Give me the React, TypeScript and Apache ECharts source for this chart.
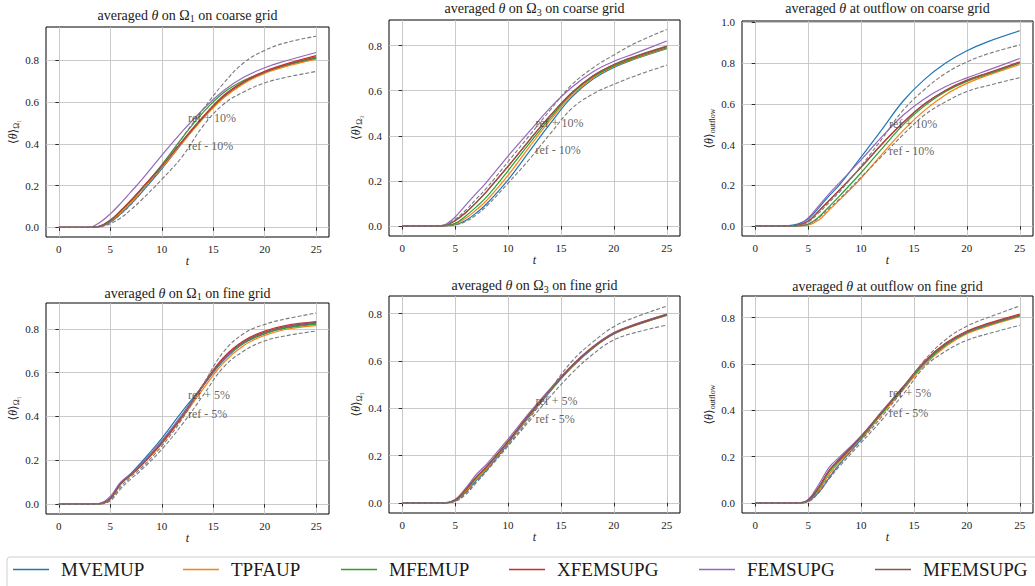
import React, { useEffect, useRef } from "react";
import * as echarts from "echarts";

const FONT = "'Liberation Serif', 'DejaVu Serif', serif";

// time samples
const T = [0, 3, 4, 5, 6, 7, 8, 10, 12, 14, 16, 18, 20, 22, 25];
const X_TICKS = [0, 5, 10, 15, 20, 25];
const Y_TICKS = [0, 0.2, 0.4, 0.6, 0.8];
const Y_TICKS_OUT = [0, 0.2, 0.4, 0.6, 0.8, 1.0];

const NAMES = ["MVEMUP", "TPFAUP", "MFEMUP", "XFEMSUPG", "FEMSUPG", "MFEMSUPG"];
const COLORS = ["#1f77b4", "#ff7f0e", "#2ca02c", "#d62728", "#9467bd", "#8c564b"];

// coarse grid, Omega_1
const c1MVEMUP = [0, 0, 0.004, 0.025, 0.065, 0.112, 0.165, 0.28, 0.405, 0.525, 0.625, 0.695, 0.742, 0.775, 0.81];
const c1TPFAUP = [0, 0, 0.005, 0.03, 0.072, 0.12, 0.175, 0.285, 0.405, 0.52, 0.62, 0.69, 0.738, 0.77, 0.806];
const c1MFEMUP = [0, 0, 0.005, 0.032, 0.078, 0.128, 0.182, 0.3, 0.43, 0.55, 0.645, 0.705, 0.745, 0.777, 0.812];
const c1XFEMSUPG = [0, 0, 0.006, 0.035, 0.08, 0.13, 0.185, 0.295, 0.415, 0.53, 0.632, 0.7, 0.748, 0.782, 0.823];
const c1FEMSUPG = [0, 0.002, 0.025, 0.065, 0.115, 0.17, 0.225, 0.345, 0.46, 0.565, 0.655, 0.72, 0.765, 0.797, 0.838];
const c1MFEMSUPG = [0, 0, 0.006, 0.034, 0.079, 0.128, 0.183, 0.292, 0.412, 0.527, 0.628, 0.697, 0.744, 0.778, 0.817];
const c1Upper = [0, 0, 0.004, 0.025, 0.062, 0.11, 0.165, 0.29, 0.43, 0.565, 0.69, 0.79, 0.848, 0.884, 0.916];
const c1Lower = [0, 0, 0.003, 0.018, 0.045, 0.085, 0.13, 0.23, 0.34, 0.485, 0.59, 0.65, 0.692, 0.718, 0.747];

// coarse grid, Omega_3
const c3MVEMUP = [0, 0, 0.001, 0.006, 0.025, 0.058, 0.1, 0.205, 0.33, 0.455, 0.57, 0.65, 0.703, 0.74, 0.786];
const c3TPFAUP = [0, 0, 0.001, 0.009, 0.035, 0.072, 0.115, 0.225, 0.35, 0.47, 0.577, 0.655, 0.707, 0.742, 0.788];
const c3MFEMUP = [0, 0, 0.002, 0.012, 0.045, 0.085, 0.13, 0.245, 0.365, 0.48, 0.585, 0.66, 0.71, 0.745, 0.79];
const c3XFEMSUPG = [0, 0, 0.003, 0.025, 0.06, 0.105, 0.155, 0.265, 0.38, 0.49, 0.59, 0.665, 0.715, 0.75, 0.795];
const c3FEMSUPG = [0, 0, 0.006, 0.04, 0.093, 0.145, 0.196, 0.31, 0.418, 0.525, 0.614, 0.683, 0.73, 0.765, 0.82];
const c3MFEMSUPG = [0, 0, 0.003, 0.024, 0.059, 0.104, 0.154, 0.264, 0.379, 0.49, 0.59, 0.665, 0.716, 0.752, 0.797];
const c3Upper = [0, 0, 0.004, 0.03, 0.07, 0.12, 0.17, 0.285, 0.4, 0.515, 0.625, 0.7, 0.758, 0.81, 0.871];
const c3Lower = [0, 0, 0.001, 0.005, 0.02, 0.05, 0.09, 0.19, 0.295, 0.41, 0.52, 0.585, 0.628, 0.665, 0.713];

// coarse grid, outflow
const coMVEMUP = [0, 0.002, 0.01, 0.035, 0.09, 0.15, 0.205, 0.339, 0.476, 0.615, 0.72, 0.8, 0.86, 0.905, 0.958];
const coTPFAUP = [0, 0, 0.001, 0.005, 0.03, 0.08, 0.13, 0.235, 0.355, 0.47, 0.568, 0.645, 0.7, 0.74, 0.793];
const coMFEMUP = [0, 0, 0.002, 0.01, 0.045, 0.097, 0.15, 0.262, 0.382, 0.498, 0.59, 0.66, 0.71, 0.745, 0.8];
const coXFEMSUPG = [0, 0, 0.004, 0.025, 0.075, 0.128, 0.18, 0.29, 0.405, 0.51, 0.6, 0.667, 0.716, 0.752, 0.806];
const coFEMSUPG = [0, 0, 0.006, 0.04, 0.1, 0.16, 0.215, 0.325, 0.44, 0.545, 0.625, 0.685, 0.727, 0.765, 0.822];
const coMFEMSUPG = [0, 0, 0.004, 0.024, 0.073, 0.126, 0.178, 0.288, 0.403, 0.508, 0.598, 0.665, 0.714, 0.75, 0.803];
const coUpper = [0, 0, 0.003, 0.02, 0.065, 0.118, 0.17, 0.295, 0.43, 0.57, 0.67, 0.75, 0.805, 0.845, 0.889];
const coLower = [0, 0, 0.001, 0.01, 0.04, 0.088, 0.135, 0.24, 0.345, 0.45, 0.545, 0.61, 0.66, 0.69, 0.728];

// fine grid, Omega_1
const f1MVEMUP = [0, 0, 0.002, 0.025, 0.095, 0.14, 0.19, 0.3, 0.425, 0.54, 0.655, 0.735, 0.778, 0.805, 0.825];
const f1TPFAUP = [0, 0, 0.001, 0.022, 0.09, 0.132, 0.175, 0.275, 0.395, 0.525, 0.645, 0.725, 0.77, 0.797, 0.815];
const f1MFEMUP = [0, 0, 0.002, 0.025, 0.093, 0.135, 0.18, 0.285, 0.41, 0.54, 0.66, 0.735, 0.778, 0.803, 0.822];
const f1XFEMSUPG = [0, 0, 0.002, 0.027, 0.095, 0.135, 0.178, 0.28, 0.405, 0.545, 0.67, 0.747, 0.79, 0.815, 0.833];
const f1FEMSUPG = [0, 0, 0.004, 0.035, 0.1, 0.138, 0.182, 0.29, 0.41, 0.54, 0.662, 0.74, 0.782, 0.81, 0.828];
const f1MFEMSUPG = [0, 0, 0.002, 0.026, 0.094, 0.134, 0.177, 0.278, 0.4, 0.54, 0.665, 0.742, 0.785, 0.81, 0.83];
const f1Upper = [0, 0, 0.001, 0.02, 0.08, 0.125, 0.165, 0.265, 0.39, 0.545, 0.695, 0.78, 0.82, 0.845, 0.872];
const f1Lower = [0, 0, 0.001, 0.015, 0.07, 0.115, 0.155, 0.25, 0.365, 0.495, 0.625, 0.7, 0.745, 0.768, 0.79];

// fine grid, Omega_3
const f3MVEMUP = [0, 0, 0, 0.008, 0.045, 0.095, 0.14, 0.25, 0.365, 0.472, 0.572, 0.653, 0.714, 0.75, 0.793];
const f3TPFAUP = [0, 0, 0, 0.01, 0.05, 0.102, 0.148, 0.255, 0.368, 0.475, 0.574, 0.655, 0.715, 0.751, 0.794];
const f3MFEMUP = [0, 0, 0, 0.011, 0.054, 0.107, 0.152, 0.258, 0.371, 0.477, 0.576, 0.657, 0.717, 0.752, 0.795];
const f3XFEMSUPG = [0, 0, 0, 0.012, 0.056, 0.11, 0.155, 0.26, 0.373, 0.479, 0.578, 0.658, 0.718, 0.753, 0.796];
const f3FEMSUPG = [0, 0, 0, 0.014, 0.062, 0.12, 0.165, 0.27, 0.38, 0.484, 0.58, 0.66, 0.72, 0.756, 0.799];
const f3MFEMSUPG = [0, 0, 0, 0.012, 0.056, 0.11, 0.155, 0.26, 0.373, 0.479, 0.578, 0.658, 0.718, 0.754, 0.797];
const f3Upper = [0, 0, 0, 0.008, 0.04, 0.09, 0.14, 0.245, 0.355, 0.48, 0.597, 0.68, 0.745, 0.785, 0.832];
const f3Lower = [0, 0, 0, 0.006, 0.035, 0.085, 0.135, 0.24, 0.345, 0.45, 0.547, 0.628, 0.689, 0.72, 0.752];

// fine grid, outflow
const foMVEMUP = [0, 0, 0, 0.008, 0.045, 0.11, 0.17, 0.275, 0.388, 0.497, 0.603, 0.682, 0.735, 0.767, 0.807];
const foTPFAUP = [0, 0, 0, 0.01, 0.055, 0.125, 0.18, 0.28, 0.385, 0.49, 0.595, 0.675, 0.73, 0.763, 0.804];
const foMFEMUP = [0, 0, 0, 0.011, 0.062, 0.135, 0.185, 0.283, 0.39, 0.497, 0.603, 0.682, 0.735, 0.767, 0.807];
const foXFEMSUPG = [0, 0, 0, 0.012, 0.068, 0.142, 0.192, 0.287, 0.395, 0.503, 0.612, 0.69, 0.742, 0.775, 0.815];
const foFEMSUPG = [0, 0, 0, 0.015, 0.08, 0.155, 0.2, 0.29, 0.397, 0.503, 0.608, 0.686, 0.738, 0.77, 0.81];
const foMFEMSUPG = [0, 0, 0, 0.012, 0.068, 0.141, 0.19, 0.286, 0.394, 0.501, 0.609, 0.687, 0.739, 0.772, 0.812];
const foUpper = [0, 0, 0, 0.008, 0.05, 0.115, 0.17, 0.27, 0.375, 0.49, 0.616, 0.705, 0.763, 0.8, 0.85];
const foLower = [0, 0, 0, 0.006, 0.045, 0.105, 0.16, 0.26, 0.36, 0.47, 0.587, 0.655, 0.702, 0.73, 0.767];

// annotations
const ANNO_T = [12.5, 12.55, 12.6, 12.5, 12.55, 12.6];
const ANNO_PLUS = [0.524, 0.455, 0.5, 0.499, 0.43, 0.475];
const ANNO_MINUS = [0.39, 0.337, 0.371, 0.412, 0.354, 0.388];
const ANNO_PCT = ["10%", "10%", "10%", "5%", "5%", "5%"];

const TITLES = [
  "averaged {i|θ} on Ω{s|1} on coarse grid",
  "averaged {i|θ} on Ω{s|3} on coarse grid",
  "averaged {i|θ} at outflow on coarse grid",
  "averaged {i|θ} on Ω{s|1} on fine grid",
  "averaged {i|θ} on Ω{s|3} on fine grid",
  "averaged {i|θ} at outflow on fine grid",
];
const YNAMES = [
  "⟨{i|θ}⟩{s|Ω₁}",
  "⟨{i|θ}⟩{s|Ω₃}",
  "⟨{i|θ}⟩{s|outflow}",
  "⟨{i|θ}⟩{s|Ω₁}",
  "⟨{i|θ}⟩{s|Ω₃}",
  "⟨{i|θ}⟩{s|outflow}",
];

const PANEL_SERIES = [
  [c1MVEMUP, c1TPFAUP, c1MFEMUP, c1XFEMSUPG, c1FEMSUPG, c1MFEMSUPG],
  [c3MVEMUP, c3TPFAUP, c3MFEMUP, c3XFEMSUPG, c3FEMSUPG, c3MFEMSUPG],
  [coMVEMUP, coTPFAUP, coMFEMUP, coXFEMSUPG, coFEMSUPG, coMFEMSUPG],
  [f1MVEMUP, f1TPFAUP, f1MFEMUP, f1XFEMSUPG, f1FEMSUPG, f1MFEMSUPG],
  [f3MVEMUP, f3TPFAUP, f3MFEMUP, f3XFEMSUPG, f3FEMSUPG, f3MFEMSUPG],
  [foMVEMUP, foTPFAUP, foMFEMUP, foXFEMSUPG, foFEMSUPG, foMFEMSUPG],
];
const PANEL_UPPER = [c1Upper, c3Upper, coUpper, f1Upper, f3Upper, foUpper];
const PANEL_LOWER = [c1Lower, c3Lower, coLower, f1Lower, f3Lower, foLower];
const PANEL_YTICKS = [Y_TICKS, Y_TICKS, Y_TICKS_OUT, Y_TICKS, Y_TICKS, Y_TICKS];
const PANEL_YRANGE = [
  [-0.046, 0.96],
  [-0.044, 0.913],
  [-0.048, 1.006],
  [-0.045, 0.918],
  [-0.043, 0.875],
  [-0.043, 0.893],
];

// layout (pixels)
const BOXES = [
  [46, 27, 283, 210],
  [389, 20, 291, 216],
  [742, 21, 291, 215],
  [46, 303, 283, 211],
  [389, 296, 291, 217],
  [742, 296, 291, 217],
];
const TITLE_Y = [15, 8.5, 8.5, 293, 285.5, 286.5];
const LEGEND_LEFT = [13, 183, 341, 509, 699, 875];

const TEXT = "#1a1a1a";

function buildOption() {
  const grid = BOXES.map((b) => ({
    left: b[0],
    top: b[1],
    width: b[2],
    height: b[3],
    show: true,
    borderColor: "#000",
    borderWidth: 1,
    backgroundColor: "transparent",
  }));

  const xAxis = BOXES.map((_, i) => ({
    type: "value",
    gridIndex: i,
    min: -1.25,
    max: 26.25,
    axisLine: { show: false },
    axisTick: {
      show: true,
      customValues: X_TICKS,
      length: 3.5,
      lineStyle: { color: "#000", width: 0.8 },
    },
    axisLabel: {
      customValues: X_TICKS,
      margin: 6,
      color: TEXT,
      fontFamily: FONT,
      fontSize: 11,
      formatter: (v: number) => String(v),
    },
    splitLine: { show: true, lineStyle: { color: "#c4c4c4", width: 0.9 } },
    name: "t",
    nameLocation: "middle",
    nameGap: 15,
    nameTextStyle: { fontStyle: "italic", fontFamily: FONT, fontSize: 12, color: TEXT },
  }));

  const yAxis = BOXES.map((_, i) => ({
    type: "value",
    gridIndex: i,
    min: PANEL_YRANGE[i][0],
    max: PANEL_YRANGE[i][1],
    axisLine: { show: false },
    axisTick: {
      show: true,
      customValues: PANEL_YTICKS[i],
      length: 3.5,
      lineStyle: { color: "#000", width: 0.8 },
    },
    axisLabel: {
      customValues: PANEL_YTICKS[i],
      margin: 7,
      color: TEXT,
      fontFamily: FONT,
      fontSize: 11,
      formatter: (v: number) => v.toFixed(1),
    },
    splitLine: { show: true, lineStyle: { color: "#c4c4c4", width: 0.9 } },
    name: YNAMES[i],
    nameLocation: "middle",
    nameRotate: 90,
    nameGap: 26,
    nameTextStyle: {
      fontFamily: FONT,
      fontSize: 12,
      color: TEXT,
      lineHeight: 14,
      rich: {
        i: { fontStyle: "italic", fontFamily: FONT, fontSize: 12, color: TEXT, lineHeight: 14 },
        s: { fontFamily: FONT, fontSize: 8, color: TEXT, verticalAlign: "bottom", lineHeight: 9 },
      },
    },
  }));

  const series: any[] = [];
  PANEL_SERIES.forEach((arrs, i) => {
    arrs.forEach((arr, j) => {
      series.push({
        type: "line",
        name: NAMES[j],
        xAxisIndex: i,
        yAxisIndex: i,
        data: T.map((t, k) => [t, arr[k]]),
        smooth: 0.4,
        symbol: "none",
        silent: true,
        lineStyle: { width: 1.2, color: COLORS[j] },
        itemStyle: { color: COLORS[j] },
        z: 3,
      });
    });
    [PANEL_UPPER[i], PANEL_LOWER[i]].forEach((arr, k) => {
      series.push({
        type: "line",
        name: k === 0 ? "ref +" : "ref -",
        xAxisIndex: i,
        yAxisIndex: i,
        data: T.map((t, m) => [t, arr[m]]),
        smooth: 0.4,
        symbol: "none",
        silent: true,
        lineStyle: { width: 1.1, color: "#7a7a7a", type: [4, 2] },
        itemStyle: { color: "#7a7a7a" },
        z: 4,
      });
    });
    series.push({
      type: "scatter",
      name: "annotation",
      xAxisIndex: i,
      yAxisIndex: i,
      symbolSize: 1,
      silent: true,
      itemStyle: { color: "rgba(0,0,0,0)" },
      data: [
        { value: [ANNO_T[i], ANNO_PLUS[i]], name: "ref + " + ANNO_PCT[i] },
        { value: [ANNO_T[i], ANNO_MINUS[i]], name: "ref - " + ANNO_PCT[i] },
      ],
      label: {
        show: true,
        position: "right",
        distance: 0,
        formatter: "{b}",
        fontFamily: FONT,
        fontSize: 12,
        color: "#3a3a3a",
      },
      z: 5,
    });
  });

  const legend = NAMES.map((n, j) => ({
    data: [{ name: n, icon: "rect", itemStyle: { color: COLORS[j] } }],
    left: LEGEND_LEFT[j],
    top: 560,
    padding: 0,
    itemWidth: 36,
    itemHeight: 1.6,
    itemGap: 0,
    selectedMode: false,
    textStyle: { fontFamily: FONT, fontSize: 19, color: TEXT, padding: [0, 0, 0, 7] },
  }));

  const graphic: any[] = [
    {
      type: "rect",
      silent: true,
      z: -10,
      shape: { x: 7, y: 557, width: 1045, height: 40, r: 3 },
      style: { fill: "#fff", stroke: "#cfcfcf", lineWidth: 1 },
    },
  ];
  BOXES.forEach((b, i) => {
    graphic.push({
      type: "text",
      silent: true,
      x: b[0] + b[2] / 2,
      y: TITLE_Y[i],
      style: {
        text: TITLES[i],
        fill: TEXT,
        fontFamily: FONT,
        fontSize: 14,
        align: "center",
        verticalAlign: "middle",
        textAlign: "center",
        textVerticalAlign: "middle",
        lineHeight: 17,
        rich: {
          i: { fontStyle: "italic", fontFamily: FONT, fontSize: 14, fill: TEXT, lineHeight: 17 },
          s: { fontFamily: FONT, fontSize: 10, fill: TEXT, verticalAlign: "bottom", lineHeight: 11 },
        },
      },
    });
  });

  return {
    animation: false,
    backgroundColor: "#fff",
    textStyle: { fontFamily: FONT },
    grid,
    xAxis,
    yAxis,
    series,
    legend,
    graphic,
  };
}

export default function App() {
  const ref = useRef<HTMLDivElement>(null);
  useEffect(() => {
    if (!ref.current) return;
    const chart = echarts.init(ref.current, null, { renderer: "svg" });
    chart.setOption(buildOption() as any);
    return () => chart.dispose();
  }, []);
  return (
    <div
      ref={ref}
      style={{ position: "absolute", left: 0, top: 0, width: 1035, height: 586 }}
    />
  );
}
